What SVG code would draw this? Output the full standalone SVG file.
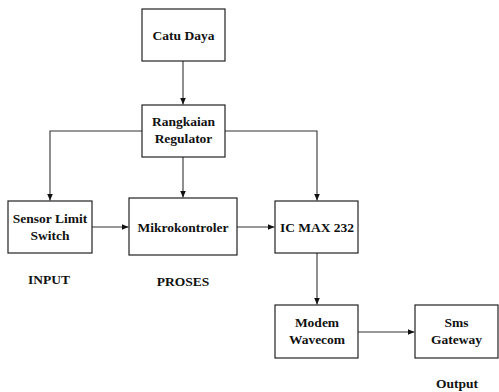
<svg xmlns="http://www.w3.org/2000/svg" width="499" height="392" viewBox="0 0 499 392">
<style>
.box{fill:#fff;stroke:#222;stroke-width:1.2}
.t{font-family:"Liberation Serif","Times New Roman",serif;font-weight:bold;font-size:13.5px;fill:#111;text-anchor:middle}
.c{fill:none;stroke:#333;stroke-width:1.1}
</style>
<defs>
<marker id="ah" markerWidth="8" markerHeight="8" refX="7" refY="4" orient="auto" markerUnits="userSpaceOnUse">
<path d="M0,1 L7,4 L0,7 Z" fill="#111"/>
</marker>
</defs>
<rect width="499" height="392" fill="#fff"/>
<g id="connectors">
<path class="c" d="M183,61 V104.5" marker-end="url(#ah)"/>
<path class="c" d="M142,131 H50 V200.5" marker-end="url(#ah)"/>
<path class="c" d="M183,157 V197.5" marker-end="url(#ah)"/>
<path class="c" d="M225,131 H317 V200.5" marker-end="url(#ah)"/>
<path class="c" d="M92,227 H128.5" marker-end="url(#ah)"/>
<path class="c" d="M237,227 H274.5" marker-end="url(#ah)"/>
<path class="c" d="M317,253 V304.5" marker-end="url(#ah)"/>
<path class="c" d="M358,332 H414.5" marker-end="url(#ah)"/>
</g>
<g id="catu-daya">
<rect class="box" x="142" y="9" width="83" height="52"/>
<text class="t" x="183.5" y="39.5">Catu Daya</text>
</g>
<g id="regulator">
<rect class="box" x="142" y="105" width="83" height="52"/>
<text class="t" x="183.5" y="126">Rangkaian</text>
<text class="t" x="183.5" y="143">Regulator</text>
</g>
<g id="sensor">
<rect class="box" x="8" y="201" width="84" height="52"/>
<text class="t" x="50" y="223">Sensor Limit</text>
<text class="t" x="50" y="240">Switch</text>
</g>
<g id="mikrokontroler">
<rect class="box" x="129" y="198" width="108" height="57"/>
<text class="t" x="183" y="232">Mikrokontroler</text>
</g>
<g id="icmax">
<rect class="box" x="275" y="201" width="83" height="52"/>
<text class="t" x="317" y="232">IC MAX 232</text>
</g>
<g id="modem">
<rect class="box" x="275" y="305" width="83" height="53"/>
<text class="t" x="317" y="327">Modem</text>
<text class="t" x="317" y="344">Wavecom</text>
</g>
<g id="sms">
<rect class="box" x="415" y="305" width="83" height="53"/>
<text class="t" x="456.5" y="327">Sms</text>
<text class="t" x="456.5" y="344">Gateway</text>
</g>
<g id="labels">
<text class="t" x="49" y="284">INPUT</text>
<text class="t" x="183" y="286">PROSES</text>
<text class="t" x="457" y="388">Output</text>
</g>
</svg>
